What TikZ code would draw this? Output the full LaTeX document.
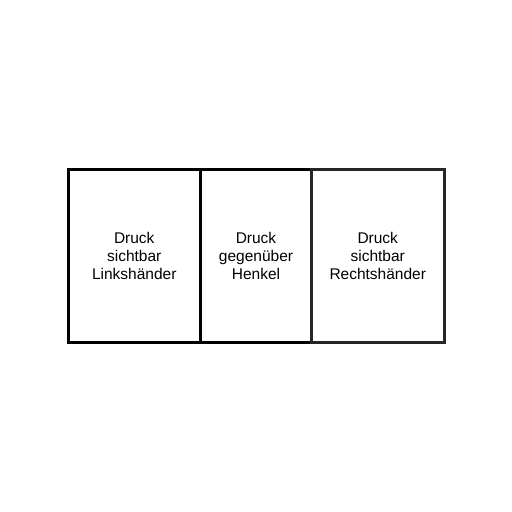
\documentclass[tikz,border=0pt]{standalone}
\usepackage{fontspec}
\setmainfont{Liberation Sans}
\begin{document}
\begin{tikzpicture}[x=1pt,y=-1pt,
  cell/.style={draw=black,line width=3pt,outer sep=0pt,minimum height=173pt,anchor=north west,inner sep=0pt},
  lbl/.style={align=center,font=\fontsize{15.5}{18}\selectfont}]
\useasboundingbox (0,0) rectangle (512,512);
\node[cell,minimum width=132.5pt] (l) at (68,169.5) {};
\node[cell,minimum width=111pt] (m) at (200.5,169.5) {};
\node[cell,draw=black!85,minimum width=132.5pt] (r) at (311.5,169.5) {};
\node[lbl] (lt) at (l.center) {Druck\\sichtbar\\Linkshänder};
\node[lbl] (mt) at (m.center) {Druck\\gegenüber\\Henkel};
\node[lbl] (rt) at (r.center) {Druck\\sichtbar\\Rechtshänder};
\end{tikzpicture}
\end{document}
